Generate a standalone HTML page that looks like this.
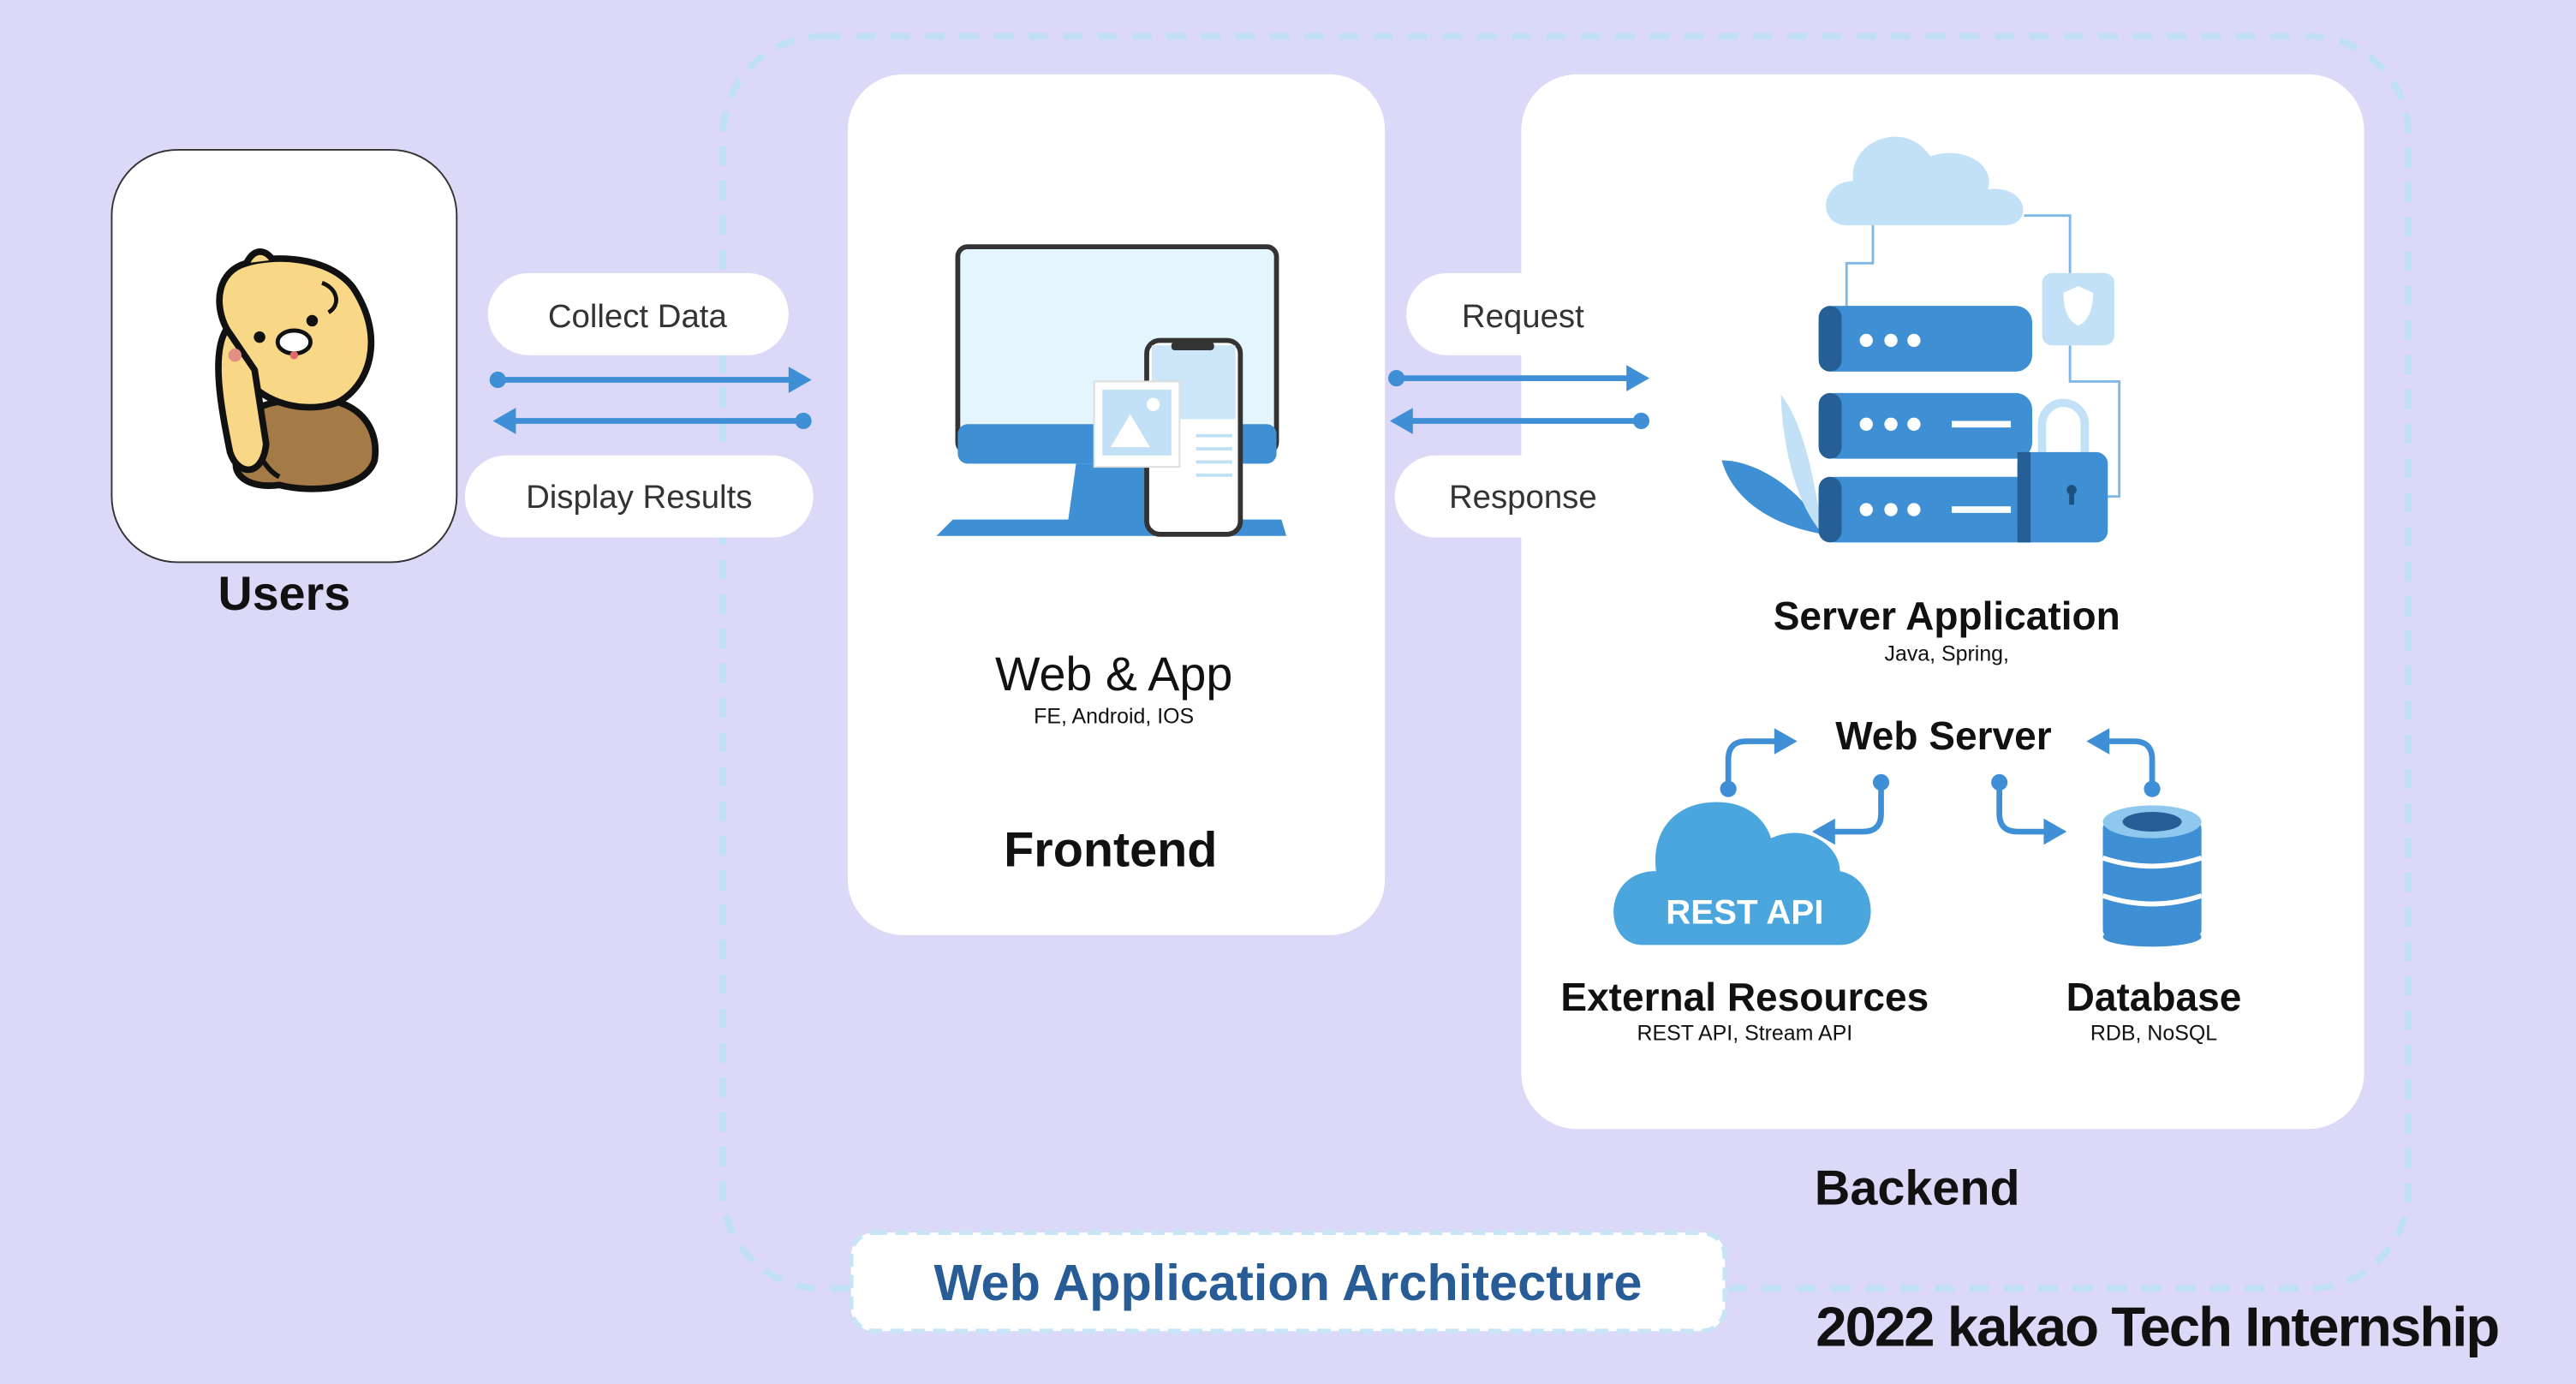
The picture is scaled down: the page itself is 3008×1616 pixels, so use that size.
<!DOCTYPE html>
<html><head><meta charset="utf-8"><style>
html,body{margin:0;padding:0;background:#dbd9f7;}
svg{display:block}
text{font-family:"Liberation Sans",sans-serif}
</style></head><body>
<svg width="3008" height="1616" viewBox="0 0 1568 842" xmlns="http://www.w3.org/2000/svg">
<rect width="1568" height="842" fill="#dbd9f7"/>
<!-- dashed container -->
<rect x="440" y="22" width="1026" height="762" rx="60" fill="none" stroke="#bfe0f5" stroke-width="4" stroke-dasharray="12 9"/>
<!-- users card -->
<rect x="68" y="91" width="210" height="251" rx="40" fill="#fff" stroke="#333" stroke-width="1"/>
<!-- bear -->
<g stroke="#111" stroke-width="4" stroke-linejoin="round">
<path d="M150,270 C140,255 160,240 185,245 C210,238 232,255 228,280 C222,298 190,300 170,295 C148,298 135,285 150,270z" fill="#a47a47"/>
<path d="M148,245 C150,265 160,285 170,290" fill="none" stroke-width="3"/>
<path d="M138,200 C130,185 132,165 150,160 C165,155 200,155 215,175 C235,205 225,235 205,245 C185,252 160,245 150,230 Z" fill="#f8d886"/>
<path d="M138,200 C128,215 135,250 140,275 C145,290 160,290 162,270 L155,225 Z" fill="#f8d886"/>
<path d="M150,160 C155,150 162,152 166,158" fill="#f8d886"/>
</g>
<circle cx="158" cy="205" r="3.5" fill="#111"/><circle cx="190" cy="195" r="3.5" fill="#111"/>
<ellipse cx="179" cy="208" rx="10" ry="7" fill="#fff" stroke="#111" stroke-width="2.5"/>
<circle cx="179" cy="216" r="2.5" fill="#e06a6a"/>
<circle cx="143" cy="216" r="4" fill="#e48f86"/>
<path d="M196,172 C205,175 208,185 200,190" fill="none" stroke="#111" stroke-width="2.5"/>
<text x="173" y="371" font-size="29" font-weight="bold" text-anchor="middle" fill="#111">Users</text>
<!-- collect/display pills -->
<rect x="297" y="166" width="183" height="50" rx="25" fill="#fff"/>
<text x="388" y="199" font-size="20" text-anchor="middle" fill="#333">Collect Data</text>
<rect x="283" y="277" width="212" height="50" rx="25" fill="#fff"/>
<text x="389" y="309" font-size="20" text-anchor="middle" fill="#333">Display Results</text>
<g stroke="#3f8fd6" stroke-width="3.5" fill="#3f8fd6">
<line x1="303" y1="231" x2="482" y2="231"/><path d="M480,223 L494,231 L480,239z" stroke="none"/><circle cx="303" cy="231" r="5" stroke="none"/>
<line x1="312" y1="256" x2="489" y2="256"/><path d="M314,248 L300,256 L314,264z" stroke="none"/><circle cx="489" cy="256" r="5" stroke="none"/>
</g>
<!-- frontend card -->
<rect x="516" y="45" width="327" height="524" rx="34" fill="#fff"/>
<rect x="583" y="150" width="194" height="125" rx="6" fill="#e4f5fd" stroke="#333" stroke-width="3"/>
<rect x="583" y="258" width="194" height="24" rx="6" fill="#3e8fd3"/>
<path d="M655,282 L700,282 L705,318 L650,318z" fill="#3e8fd3"/>
<path d="M580,316 L780,316 L783,326 L570,326z" fill="#3e8fd3"/>
<rect x="698" y="207" width="57" height="118" rx="8" fill="#fff" stroke="#333" stroke-width="3"/>
<rect x="701" y="210" width="51" height="45" fill="#cce6f7"/>
<rect x="713" y="208" width="26" height="5" rx="2" fill="#333"/>
<rect x="666" y="232" width="52" height="52" fill="#fff" stroke="#ddd"/>
<rect x="671" y="237" width="42" height="40" fill="#c2e1f6"/>
<path d="M676,272 L688,252 L700,272z" fill="#fff"/><circle cx="702" cy="246" r="4" fill="#fff"/>
<g stroke="#bfe0f5" stroke-width="2"><line x1="728" y1="265" x2="750" y2="265"/><line x1="728" y1="273" x2="750" y2="273"/><line x1="728" y1="281" x2="750" y2="281"/><line x1="728" y1="289" x2="750" y2="289"/></g>
<text x="678" y="420" font-size="29" text-anchor="middle" fill="#111">Web &amp; App</text>
<text x="678" y="440" font-size="13" text-anchor="middle" fill="#111">FE, Android, IOS</text>
<text x="676" y="527" font-size="30" font-weight="bold" text-anchor="middle" fill="#111">Frontend</text>
<!-- backend card -->
<rect x="926" y="45" width="513" height="642" rx="34" fill="#fff"/>
<!-- request/response pills (on top) -->
<rect x="856" y="166" width="142" height="50" rx="25" fill="#fff"/>
<text x="927" y="199" font-size="20" text-anchor="middle" fill="#333">Request</text>
<rect x="849" y="277" width="156" height="50" rx="25" fill="#fff"/>
<text x="927" y="309" font-size="20" text-anchor="middle" fill="#333">Response</text>
<g stroke="#3f8fd6" stroke-width="3.5" fill="#3f8fd6">
<line x1="850" y1="230" x2="992" y2="230"/><path d="M990,222 L1004,230 L990,238z" stroke="none"/><circle cx="850" cy="230" r="5" stroke="none"/>
<line x1="858" y1="256" x2="999" y2="256"/><path d="M860,248 L846,256 L860,264z" stroke="none"/><circle cx="999" cy="256" r="5" stroke="none"/>
</g>
<!-- server illustration -->
<path d="M1125,137 C1105,137 1108,110 1128,110 C1125,85 1160,72 1175,95 C1195,88 1215,100 1210,115 C1235,112 1238,137 1220,137z" fill="#c3e1f6"/>
<path d="M1140,137 L1140,160 L1124,160 L1124,186 M1232,131 L1260,131 L1260,166 M1260,210 L1260,232 L1290,232 L1290,302 L1280,302" fill="none" stroke="#7fb8e6" stroke-width="1.5"/>
<rect x="1243" y="166" width="44" height="44" rx="6" fill="#c3e1f6"/>
<path d="M1256,178 L1265,174 L1274,178 C1274,190 1270,196 1265,198 C1260,196 1256,190 1256,178z" fill="#fff"/>
<path d="M1048,280 C1070,280 1100,300 1110,325 C1080,320 1055,305 1048,280z" fill="#3e8fd3"/>
<path d="M1084,240 C1100,260 1105,300 1110,325 C1095,310 1085,275 1084,240z" fill="#c3e1f6"/>
<g fill="#3e8fd3"><rect x="1107" y="186" width="130" height="40" rx="10"/><rect x="1107" y="239" width="130" height="40" rx="10"/><rect x="1107" y="290" width="130" height="40" rx="10"/></g>
<g fill="#255f96"><rect x="1107" y="186" width="14" height="40" rx="7"/><rect x="1107" y="239" width="14" height="40" rx="7"/><rect x="1107" y="290" width="14" height="40" rx="7"/></g>
<g fill="#fff"><circle cx="1136" cy="207" r="4"/><circle cx="1151" cy="207" r="4"/><circle cx="1165" cy="207" r="4"/><circle cx="1136" cy="258" r="4"/><circle cx="1151" cy="258" r="4"/><circle cx="1165" cy="258" r="4"/><circle cx="1136" cy="310" r="4"/><circle cx="1151" cy="310" r="4"/><circle cx="1165" cy="310" r="4"/><rect x="1188" y="256" width="36" height="4"/><rect x="1188" y="308" width="36" height="4"/></g>
<path d="M1243,275 L1243,258 A13,13 0 0 1 1269,258 L1269,275" fill="none" stroke="#c3e1f6" stroke-width="5"/>
<rect x="1228" y="275" width="55" height="55" rx="7" fill="#3e8fd3"/>
<rect x="1228" y="275" width="8" height="55" fill="#255f96"/>
<circle cx="1261" cy="298" r="3" fill="#1e4f7e"/><rect x="1259.5" y="298" width="3" height="9" fill="#1e4f7e"/>
<text x="1185" y="383" font-size="24" font-weight="bold" text-anchor="middle" fill="#111">Server Application</text>
<text x="1185" y="402" font-size="13" text-anchor="middle" fill="#111">Java, Spring,</text>
<text x="1183" y="456" font-size="24" font-weight="bold" text-anchor="middle" fill="#111">Web Server</text>
<!-- web server arrows -->
<g fill="none" stroke="#3f8fd6" stroke-width="3.5">
<path d="M1052,480 L1052,462 Q1052,451 1063,451 L1082,451"/>
<path d="M1145,476 L1145,495 Q1145,506 1134,506 L1115,506"/>
<path d="M1217,476 L1217,495 Q1217,506 1228,506 L1246,506"/>
<path d="M1310,480 L1310,462 Q1310,451 1299,451 L1282,451"/>
</g>
<g fill="#3f8fd6">
<circle cx="1052" cy="480" r="5"/><circle cx="1145" cy="476" r="5"/><circle cx="1217" cy="476" r="5"/><circle cx="1310" cy="480" r="5"/>
<path d="M1080,443 L1094,451 L1080,459z"/><path d="M1117,498 L1103,506 L1117,514z"/><path d="M1244,498 L1258,506 L1244,514z"/><path d="M1284,443 L1270,451 L1284,459z"/>
</g>
<!-- REST API cloud -->
<path d="M1000,575 C975,575 975,530 1008,530 C1005,505 1020,488 1045,488 C1065,488 1075,500 1078,510 C1100,500 1120,515 1120,530 C1145,535 1145,575 1120,575z" fill="#4ba6de"/>
<text x="1062" y="562" font-size="21" font-weight="bold" text-anchor="middle" fill="#fff">REST API</text>
<!-- database -->
<g>
<rect x="1280" y="500" width="60" height="70" rx="4" fill="#3e8fd3"/>
<ellipse cx="1310" cy="570" rx="30" ry="6" fill="#3e8fd3"/>
<ellipse cx="1310" cy="500" rx="30" ry="10" fill="#8ec8ef"/>
<ellipse cx="1310" cy="500" rx="18" ry="6" fill="#255f96"/>
<path d="M1280,522 Q1310,532 1340,522 M1280,545 Q1310,555 1340,545" stroke="#fff" stroke-width="3" fill="none"/>
</g>
<text x="1062" y="615" font-size="24" font-weight="bold" text-anchor="middle" fill="#111">External Resources</text>
<text x="1062" y="633" font-size="13" text-anchor="middle" fill="#111">REST API, Stream API</text>
<text x="1311" y="615" font-size="24" font-weight="bold" text-anchor="middle" fill="#111">Database</text>
<text x="1311" y="633" font-size="13" text-anchor="middle" fill="#111">RDB, NoSQL</text>
<text x="1167" y="733" font-size="30" font-weight="bold" text-anchor="middle" fill="#111">Backend</text>
<!-- title pill -->
<rect x="518" y="750" width="532" height="60" rx="14" fill="#fff" stroke="#c8e4f7" stroke-width="3" stroke-dasharray="8 5"/>
<text x="784" y="791" font-size="31" font-weight="bold" text-anchor="middle" fill="#275c96">Web Application Architecture</text>
<text x="1313" y="819" font-size="34" font-weight="bold" text-anchor="middle" fill="#111" letter-spacing="-1">2022 kakao Tech Internship</text>
</svg>
</body></html>
